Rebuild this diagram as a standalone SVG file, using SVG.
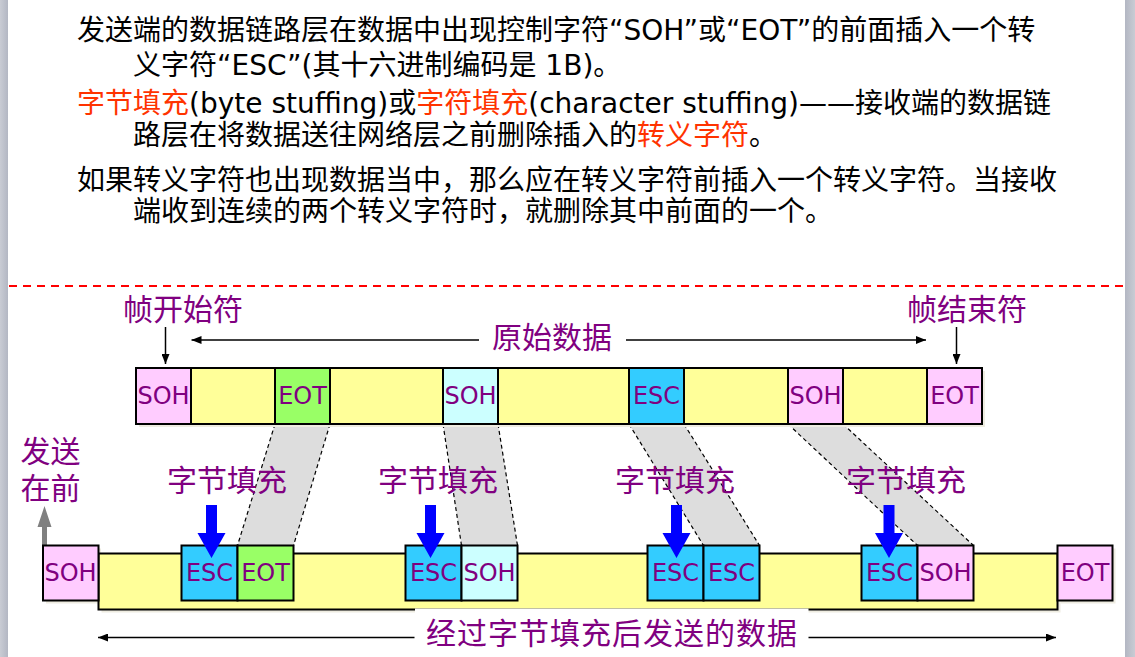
<svg xmlns="http://www.w3.org/2000/svg" width="1135" height="657" viewBox="0 0 1135 657">
<defs>
<linearGradient id="barL" x1="0" y1="0" x2="1" y2="0"><stop offset="0" stop-color="#c9ccd4"/><stop offset="1" stop-color="#b3b7c3"/></linearGradient>
<linearGradient id="barR" x1="0" y1="0" x2="1" y2="0"><stop offset="0" stop-color="#b3b7c3"/><stop offset="1" stop-color="#c9ccd4"/></linearGradient>
<marker id="ah" viewBox="0 0 10 8" refX="10" refY="4" markerWidth="10" markerHeight="8" markerUnits="userSpaceOnUse" orient="auto"><path d="M0,0 L10,4 L0,8 Z" fill="#000"/></marker>
<style>
.t{font-family:"DejaVu Sans","Noto Sans CJK SC",sans-serif;font-size:28px;fill:#000}
.r{fill:#ff3300}
.lab{font-family:"Noto Sans CJK SC","DejaVu Sans",sans-serif;font-size:30px;fill:#800080}
.bl{font-family:"DejaVu Sans","Noto Sans CJK SC",sans-serif;font-size:24px;fill:#800080;text-anchor:middle}
.box{stroke:#000;stroke-width:2}
.pk{fill:#ffccff}.ye{fill:#ffff99}.gr{fill:#99ff66}.cy{fill:#ccffff}.bu{fill:#33ccff}
.sh{fill:#eeece1}
.band{fill:#dddddd}
.dl{stroke:#000;stroke-width:1.2;stroke-dasharray:4 3;fill:none}
.ar{stroke:#000;stroke-width:1.5;fill:none;marker-end:url(#ah)}
.blue{fill:#0000ff}
</style>
</defs>
<rect x="0" y="0" width="1135" height="657" fill="#fff"/>
<rect x="0" y="0" width="8" height="657" fill="url(#barL)"/>
<rect x="1125" y="0" width="10" height="657" fill="url(#barR)"/>

<g id="text">
<text class="t" x="77" y="40">发送端的数据链路层在数据中出现控制字符“SOH”或“EOT”的前面插入一个转</text>
<text class="t" x="133" y="75">义字符“ESC”(其十六进制编码是 1B)。</text>
<text class="t" x="77" y="113"><tspan class="r">字节填充</tspan>(byte stuffing)或<tspan class="r">字符填充</tspan>(character stuffing)——接收端的数据链</text>
<text class="t" x="133" y="145">路层在将数据送往网络层之前删除插入的<tspan class="r">转义字符</tspan>。</text>
<text class="t" x="77" y="190">如果转义字符也出现数据当中，那么应在转义字符前插入一个转义字符。当接收</text>
<text class="t" x="133" y="221">端收到连续的两个转义字符时，就删除其中前面的一个。</text>
</g>

<line x1="9" y1="286" x2="1125" y2="286" stroke="#ff0000" stroke-width="2" stroke-dasharray="8 6"/>

<g id="bands">
<polygon class="band" points="275,424 330,424 293.5,545.5 237.5,545.5"/>
<line class="dl" x1="275" y1="424" x2="237.5" y2="545.5"/><line class="dl" x1="330" y1="424" x2="293.5" y2="545.5"/>
<polygon class="band" points="443,424 498,424 517.5,545.5 461.5,545.5"/>
<line class="dl" x1="443" y1="424" x2="461.5" y2="545.5"/><line class="dl" x1="498" y1="424" x2="517.5" y2="545.5"/>
<polygon class="band" points="629,424 684,424 759.5,545.5 703.5,545.5"/>
<line class="dl" x1="629" y1="424" x2="703.5" y2="545.5"/><line class="dl" x1="684" y1="424" x2="759.5" y2="545.5"/>
<polygon class="band" points="788,424 843,424 973.5,545.5 917.5,545.5"/>
<line class="dl" x1="788" y1="424" x2="917.5" y2="545.5"/><line class="dl" x1="843" y1="424" x2="973.5" y2="545.5"/>
</g>

<g id="top-frame">
<rect class="sh" x="139" y="371" width="846" height="56"/>
<rect class="ye box" x="136" y="368" width="846" height="56"/>
<rect class="pk box" x="136" y="368" width="55" height="56"/><text class="bl" x="163.5" y="404">SOH</text>
<rect class="gr box" x="275" y="368" width="55" height="56"/><text class="bl" x="302.5" y="404">EOT</text>
<rect class="cy box" x="443" y="368" width="55" height="56"/><text class="bl" x="470.5" y="404">SOH</text>
<rect class="bu box" x="629" y="368" width="55" height="56"/><text class="bl" x="656.5" y="404">ESC</text>
<rect class="pk box" x="788" y="368" width="55" height="56"/><text class="bl" x="815.5" y="404">SOH</text>
<rect class="pk box" x="927" y="368" width="55" height="56"/><text class="bl" x="954.5" y="404">EOT</text>
</g>

<g id="gray-arrow">
<polygon fill="#808080" points="42,548 42,527 37.5,527 44.5,506 51.5,527 47,527 47,548"/>
</g>

<g id="bottom-frame">
<rect class="sh" x="46" y="548.5" width="55" height="55"/>
<rect class="sh" x="101.5" y="556.5" width="959" height="56"/>
<rect class="sh" x="1060.5" y="548.5" width="55" height="55"/>
<rect class="ye box" x="98.5" y="553.5" width="959" height="56"/>
<rect class="pk box" x="43" y="545.5" width="55.5" height="55"/><text class="bl" x="70.5" y="581">SOH</text>
<rect class="bu box" x="181.5" y="545.5" width="56" height="55"/><text class="bl" x="209.5" y="581">ESC</text>
<rect class="gr box" x="237.5" y="545.5" width="56" height="55"/><text class="bl" x="265.5" y="581">EOT</text>
<rect class="bu box" x="405.5" y="545.5" width="56" height="55"/><text class="bl" x="433.5" y="581">ESC</text>
<rect class="cy box" x="461.5" y="545.5" width="56" height="55"/><text class="bl" x="489.5" y="581">SOH</text>
<rect class="bu box" x="647.5" y="545.5" width="56" height="55"/><text class="bl" x="675.5" y="581">ESC</text>
<rect class="bu box" x="703.5" y="545.5" width="56" height="55"/><text class="bl" x="731.5" y="581">ESC</text>
<rect class="bu box" x="861.5" y="545.5" width="56" height="55"/><text class="bl" x="889.5" y="581">ESC</text>
<rect class="pk box" x="917.5" y="545.5" width="56" height="55"/><text class="bl" x="945.5" y="581">SOH</text>
<rect class="pk box" x="1057.5" y="545.5" width="55" height="55"/><text class="bl" x="1085" y="581">EOT</text>
<rect x="415" y="608.5" width="393.5" height="45" fill="#fff"/>
</g>

<g id="labels">
<text class="lab" x="183" y="320" text-anchor="middle">帧开始符</text>
<text class="lab" x="552" y="348" text-anchor="middle">原始数据</text>
<text class="lab" x="967" y="320" text-anchor="middle">帧结束符</text>
<text class="lab" text-anchor="middle"><tspan x="50.5" y="462">发送</tspan><tspan x="50.5" y="499">在前</tspan></text>
<text class="lab" x="227" y="491" text-anchor="middle">字节填充</text>
<text class="lab" x="438" y="491" text-anchor="middle">字节填充</text>
<text class="lab" x="675" y="491" text-anchor="middle">字节填充</text>
<text class="lab" x="906" y="491" text-anchor="middle">字节填充</text>
<text class="lab" x="612" y="644" text-anchor="middle" style="font-size:30px;letter-spacing:1px">经过字节填充后发送的数据</text>
</g>

<g id="blue-arrows">
<polygon class="blue" points="206,505 217,505 217,533 225.5,533 211.5,558 197.5,533 206,533"/>
<polygon class="blue" points="425,505 436,505 436,533 444.5,533 430.5,558 416.5,533 425,533"/>
<polygon class="blue" points="671,505 682,505 682,533 690.5,533 676.5,558 662.5,533 671,533"/>
<polygon class="blue" points="883.5,505 894.5,505 894.5,533 903,533 889,558 875,533 883.5,533"/>
</g>

<g id="connectors">
<line class="ar" x1="165.5" y1="327" x2="165.5" y2="364"/>
<line class="ar" x1="479" y1="340" x2="191.5" y2="340"/>
<line class="ar" x1="626" y1="340" x2="926" y2="340"/>
<line class="ar" x1="956.5" y1="327" x2="956.5" y2="364"/>
<line class="ar" x1="414.5" y1="637.5" x2="98" y2="637.5"/>
<line class="ar" x1="808.5" y1="637.5" x2="1056" y2="637.5"/>
</g>
</svg>
